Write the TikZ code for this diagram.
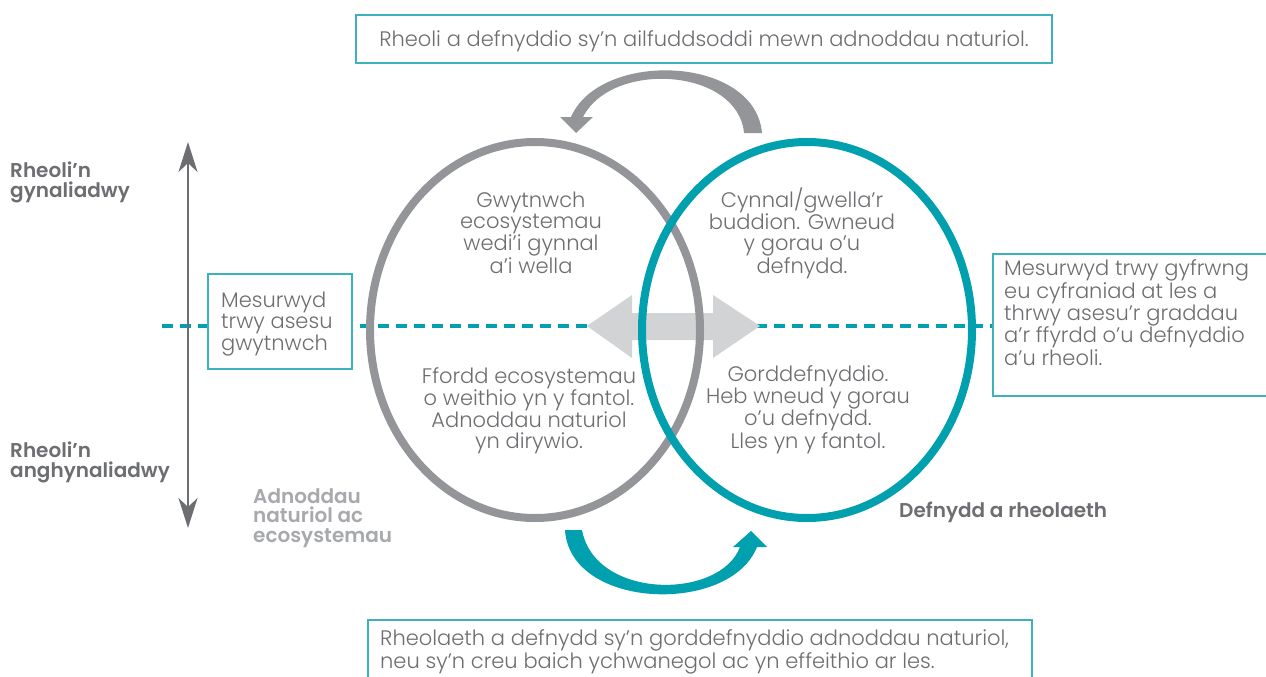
\documentclass[tikz,border=0pt]{standalone}
\usepackage{fontspec}
\setmainfont{Poppins}[UprightFont={* Light}, BoldFont={* SemiBold}]
\usetikzlibrary{arrows.meta,shapes.geometric}
\definecolor{cgray}{HTML}{939598}
\definecolor{cteal}{HTML}{00A0AF}
\definecolor{cbox}{HTML}{3DB2BC}
\definecolor{ctext}{HTML}{6D6E71}
\definecolor{clight}{HTML}{D1D3D4}
\definecolor{clabel}{HTML}{A7A9AC}
\tikzset{
  body/.style={font=\fontsize{21}{20.5}\selectfont, text=ctext},
  boxed/.style={draw=cbox, line width=1.4pt, fill=white, inner sep=0pt},
  ring/.style={ellipse, draw, line width=8pt, inner sep=0pt, minimum width=330pt, minimum height=376pt},
  lbl/.style={font=\fontsize{20}{19.5}\selectfont\bfseries, align=left, anchor=base west, inner sep=0pt},
  intext/.style={body, align=center, anchor=base, inner sep=0pt},
  boxtext/.style={body, align=left, anchor=base west, inner sep=0pt},
}
\begin{document}
\begin{tikzpicture}[x=1pt,y=-1pt]
\clip (0,0) rectangle (1266,677);
\fill[white] (0,0) rectangle (1266,677);
% dashed axis
\coordinate (dl) at (162,326);
\coordinate (dr) at (995,326);
\draw[cteal, line width=4.5pt, dash pattern=on 11pt off 7pt] (dl) -- (dr);
% vertical axis
\coordinate (vt) at (188,142);
\coordinate (vb) at (188,528);
\draw[ctext, line width=2.4pt, {Stealth[length=30pt,width=19pt,inset=9pt]}-{Stealth[length=30pt,width=19pt,inset=9pt]}] (vt) -- (vb);
% double arrow
\fill[clight] (587,326) -- (632,295) -- (632,313) -- (713,313) -- (713,295) -- (760,326) -- (713,358) -- (713,340) -- (632,340) -- (632,358) -- cycle;
% ellipses
\node[ring, draw=cgray] (res) at (535,330) {};
\node[ring, draw=cteal] (use) at (807,330) {};
% top grey curved arrow
\fill[cgray] (762,133) -- (744,133) .. controls (738,68) and (612,60) .. (583,117) -- (593,117) -- (576,133) -- (560,117) -- (571,117) .. controls (600,50) and (755,55) .. (762,133) -- cycle;
% bottom teal curved arrow
\fill[cteal] (565,530) -- (582,530) .. controls (595,600) and (720,600) .. (740,547) -- (733,547) -- (751,531) -- (767,547) -- (757,547) .. controls (730,615) and (570,610) .. (565,530) -- cycle;
% boxes
\node[boxed, minimum width=696pt, minimum height=48pt] (topbox) at (704,39) {};
\node[body, anchor=base, inner sep=0pt] (toptext) at (704,47) {Rheoli a defnyddio sy’n ailfuddsoddi mewn adnoddau naturiol.};
\node[boxed, minimum width=144pt, minimum height=95pt] (leftbox) at (280,321.5) {};
\node[boxtext] (lefttext) at (221,350) {Mesurwyd\\trwy asesu\\gwytnwch};
\node[boxed, minimum width=300pt, minimum height=142pt] (rightbox) at (1143,325) {};
\node[boxtext] (righttext) at (1004,365) {Mesurwyd trwy gyfrwng\\eu cyfraniad at les a\\thrwy asesu’r graddau\\a’r ffyrdd o’u defnyddio\\a’u rheoli.};
\node[boxed, minimum width=664pt, minimum height=72pt] (botbox) at (700,656) {};
\node[boxtext] (bottext) at (380,668) {Rheolaeth a defnydd sy’n gorddefnyddio adnoddau naturiol,\\neu sy’n creu baich ychwanegol ac yn effeithio ar les.};
% ellipse texts
\node[intext] (t1) at (531,273) {Gwytnwch\\ecosystemau\\wedi’i gynnal\\a’i wella};
\node[intext] (t2) at (802,273) {Cynnal/gwella’r\\buddion. Gwneud\\y gorau o’u\\defnydd.};
\node[intext] (t3) at (529,448) {Ffordd ecosystemau\\o weithio yn y fantol.\\Adnoddau naturiol\\yn dirywio.};
\node[intext] (t4) at (808,448) {Gorddefnyddio.\\Heb wneud y gorau\\o’u defnydd.\\Lles yn y fantol.};
% labels
\node[lbl, text=ctext] (l1) at (10,197) {Rheoli’n\\gynaliadwy};
\node[lbl, text=ctext] (l2) at (10,477) {Rheoli’n\\anghynaliadwy};
\node[lbl, text=clabel] (l3) at (253,542) {Adnoddau\\naturiol ac\\ecosystemau};
\node[lbl, text=ctext] (l4) at (899,517) {Defnydd a rheolaeth};
\end{tikzpicture}
\end{document}
